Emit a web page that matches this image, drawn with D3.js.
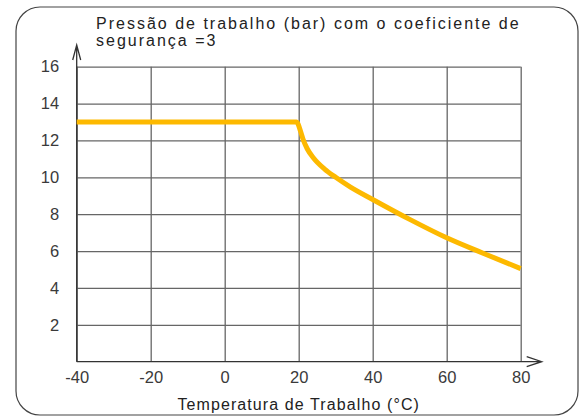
<!DOCTYPE html>
<html lang="pt">
<head>
  <meta charset="UTF-8">
  <title>Pressão de trabalho</title>
  <script src="https://d3js.org/d3.v7.min.js"></script>
  <style>
    * { margin: 0; padding: 0; box-sizing: border-box; }
    body { width: 582px; height: 416px; background: #fff; font-family: "Liberation Sans", Arial, sans-serif; }
    .tick text { font-size: 16.5px; fill: #3a3a3a; }
  </style>
</head>
<body>
  <div id="chart"></div>

  <script>
    // Data
    const temps = [-40, 19.4, 20.5, 21.2, 22.3, 24, 27, 30, 34, 40, 50, 60, 70, 80];
    const pressures = [13, 13, 12.5, 12.05, 11.55, 11.05, 10.45, 10.0, 9.47, 8.8, 7.72, 6.72, 5.87, 5.05];
    const xTicks = [-40, -20, 0, 20, 40, 60, 80];
    const yTicks = [2, 4, 6, 8, 10, 12, 14, 16];
    const titleLines = ['Pressão de trabalho (bar) com o coeficiente de', 'segurança =3'];
    const xTitle = 'Temperatura de Trabalho (°C)';

    const width = 582;
    const height = 416;
    const margin = { left: 76.7, right: 61.3, top: 66.7, bottom: 54.3 };
    const plotW = width - margin.left - margin.right;
    const plotH = height - margin.top - margin.bottom;

    const svg = d3.select('#chart')
      .append('svg')
      .attr('width', width)
      .attr('height', height);

    // rounded frame
    svg.append('rect')
      .attr('x', 16).attr('y', 7)
      .attr('width', 562).attr('height', 408)
      .attr('rx', 24).attr('ry', 24)
      .attr('fill', 'none')
      .attr('stroke', '#444')
      .attr('stroke-width', 1.2);

    const g = svg.append('g')
      .attr('transform', `translate(${margin.left},${margin.top})`);

    const x = d3.scaleLinear().domain([-40, 80]).range([0, plotW]);
    const y = d3.scaleLinear().domain([0, 16]).range([plotH, 0]);

    // x axis + vertical grid
    const xAxis = g.append('g')
      .attr('transform', `translate(0,${plotH})`)
      .call(d3.axisBottom(x).tickValues(xTicks).tickSize(-plotH).tickPadding(9.5).tickFormat(d => String(d)));
    xAxis.select('.domain').remove();
    xAxis.selectAll('.tick line').attr('stroke', '#666').attr('stroke-width', 1.3);

    // y axis + horizontal grid
    const yAxis = g.append('g')
      .call(d3.axisLeft(y).tickValues(yTicks).tickSize(-plotW).tickPadding(17.5).tickFormat(d => String(d)));
    yAxis.select('.domain').remove();
    yAxis.selectAll('.tick line').attr('stroke', '#666').attr('stroke-width', 1.3);
    g.selectAll('.tick text').attr('font-family', '"Liberation Sans", Arial, sans-serif');

    // axis lines with open arrows
    const xEnd = plotW + 21;
    const yEnd = -21.7;
    g.append('path')
      .attr('d', `M0,${plotH}H${xEnd}M${xEnd - 15},${plotH - 5}L${xEnd},${plotH}L${xEnd - 15},${plotH + 5}`)
      .attr('stroke', '#333').attr('stroke-width', 1.3).attr('fill', 'none');
    g.append('path')
      .attr('d', `M0,${plotH}V${yEnd}M-4,${yEnd + 15}L0,${yEnd}L4,${yEnd + 15}`)
      .attr('stroke', '#333').attr('stroke-width', 1.3).attr('fill', 'none');

    // pressure curve
    const line = d3.line()
      .x((d, i) => x(temps[i]))
      .y(d => y(d))
      .curve(d3.curveMonotoneX);
    g.append('path')
      .datum(pressures)
      .attr('d', line)
      .attr('fill', 'none')
      .attr('stroke', '#FDB900')
      .attr('stroke-width', 5)
      .attr('stroke-linejoin', 'round');

    // title
    svg.append('text')
      .attr('font-size', 16)
      .attr('letter-spacing', 2)
      .attr('fill', '#222')
      .selectAll('tspan')
      .data(titleLines)
      .enter()
      .append('tspan')
      .attr('x', 96)
      .attr('y', (d, i) => 29 + i * 17)
      .text(d => d);

    // x axis title
    svg.append('text')
      .attr('x', margin.left + plotW / 2)
      .attr('y', 410)
      .attr('text-anchor', 'middle')
      .attr('font-size', 16)
      .attr('letter-spacing', 1.1)
      .attr('fill', '#222')
      .text(xTitle);
  </script>
</body>
</html>
